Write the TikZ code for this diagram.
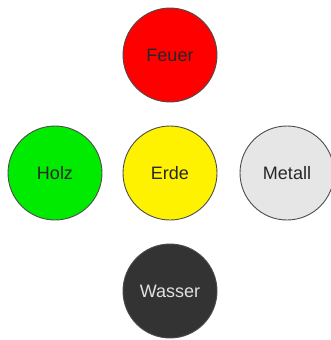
\documentclass[tikz,border=0pt]{standalone}
\usepackage{fontspec}
\setmainfont{Liberation Sans}
\begin{document}
\begin{tikzpicture}[x=1pt,y=-1pt,
  elem/.style={circle,draw=black!70,line width=0.9pt,minimum size=94pt,inner sep=0pt,
    font=\fontsize{18}{20}\selectfont,text=black!85}]
\useasboundingbox (0,0) rectangle (331,340);
\node[elem,fill=red] (feuer) at (170,55) {Feuer};
\node[elem,fill={rgb,255:red,0;green,235;blue,0}] (holz) at (55,173) {Holz};
\node[elem,fill=yellow] (erde) at (170,173) {Erde};
\node[elem,fill={rgb,255:red,230;green,230;blue,230}] (metall) at (287,173) {Metall};
\node[elem,fill={rgb,255:red,51;green,51;blue,51},text={rgb,255:red,225;green,225;blue,225}] (wasser) at (170,291) {Wasser};
\end{tikzpicture}
\end{document}
